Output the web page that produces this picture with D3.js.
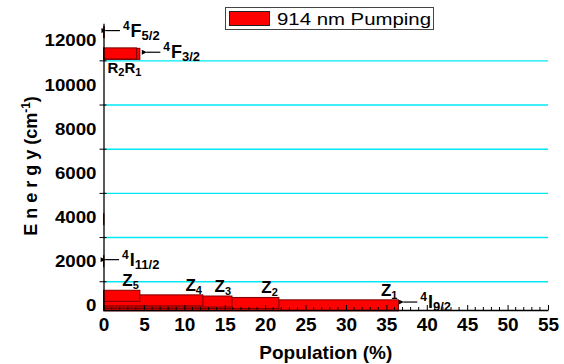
<!DOCTYPE html>
<html>
<head>
<meta charset="utf-8">
<script src="https://cdn.jsdelivr.net/npm/d3@7"></script>
<style>
  body { margin: 0; background: #fff; }
  svg { display: block; font-family: 'Liberation Sans', Arial, sans-serif; }
</style>
</head>
<body>
<div id="viz"></div>
<script>
// Levels of Nd ion: energy (cm-1) and population (%) under 914 nm pumping
const groundNames = ['Z1', 'Z2', 'Z3', 'Z4', 'Z5'];
const groundEnergy = [0, 108, 173, 226, 433];
const groundPop = [36.5, 21.7, 15.9, 12.3, 4.5];

const upperNames = ['I13', 'I11', 'R1', 'R2', 'F52'];
const upperEnergy = [3900, 2000, 11386, 11405, 12370];
const upperPop = [0.05, 0.05, 4.5, 4.1, 0.1];

// Manifold labels: superscript, letter, subscript, energy, arrow tip (population)
const manifoldLabels = [
  {sup: '4', main: 'F', sub: '5/2', energy: 12370, tip: 0.3},
  {sup: '4', main: 'F', sub: '3/2', energy: 11390, tip: 5.3},
  {sup: '4', main: 'I', sub: '11/2', energy: 2000, tip: 0.2},
  {sup: '4', main: 'I', sub: '9/2', energy: 80, tip: 37.1}
];

const yTickLabels = [0, 2000, 4000, 6000, 8000, 10000, 12000];
const yMinorTicks = [1000, 3000, 5000, 7000, 9000, 11000];
const gridValues = [1000, 3000, 5000, 7000, 9000, 11000];
const xTickLabels = d3.range(0, 56, 5);
const xMinorTicks = d3.range(0, 56, 1);
const legendLabel = '914 nm Pumping';

const width = 564;
const height = 364;
const barThickness = 500; // in cm-1
const barFill = '#ff0000';
const barStroke = '#7a0000';
const gridColor = '#00e8f4';

const svg = d3.select('#viz')
  .append('svg')
    .attr('width', width)
    .attr('height', height);

const xScale = d3.scaleLinear()
  .domain([0, 55])
  .range([103.5, 548]);
const yScale = d3.scaleLinear()
  .domain([-280, 12700])
  .range([310, 23.3]);

// Gridlines
svg.append('g')
  .selectAll('line')
  .data(gridValues)
  .join('line')
    .attr('x1', xScale(0))
    .attr('x2', xScale(55))
    .attr('y1', d => yScale(d))
    .attr('y2', d => yScale(d))
    .attr('stroke', gridColor)
    .attr('stroke-width', 1.4);

// Bars
const barTop = e => yScale(e + barThickness * 0.36);
const barBottom = e => yScale(e - barThickness * 0.64);

const bars = groundNames.map((n, i) => ({name: n, energy: groundEnergy[i], pop: groundPop[i]}))
  .concat(upperNames.map((n, i) => ({name: n, energy: upperEnergy[i], pop: upperPop[i]})));

svg.append('g')
  .selectAll('rect')
  .data(bars)
  .join('rect')
    .attr('x', xScale(0))
    .attr('y', d => barTop(d.energy))
    .attr('width', d => xScale(d.pop) - xScale(0))
    .attr('height', d => barBottom(d.energy) - barTop(d.energy))
    .attr('fill', d => d.pop < 0.5 ? barStroke : barFill)
    .attr('stroke', barStroke)
    .attr('stroke-width', 1);

// Y axis: labels at even thousands, crossing ticks at odd ones
const yAxis = d3.axisLeft(yScale)
  .tickValues(yTickLabels)
  .tickSize(0)
  .tickPadding(7)
  .tickFormat(d3.format('d'));
const yAxisGroup = svg.append('g')
  .attr('transform', `translate(${xScale(0)},0)`)
  .call(yAxis);
yAxisGroup.select('.domain').attr('stroke', '#000').attr('stroke-width', 1.3);
yAxisGroup.selectAll('text')
  .attr('fill', '#000')
  .attr('dy', '0.42em')
  .style('font-size', '17px')
  .style('font-weight', 700)
  .attr('textLength', d => String(d).length * 10.4)
  .attr('lengthAdjust', 'spacingAndGlyphs');
yAxisGroup.append('g')
  .selectAll('line')
  .data(yMinorTicks)
  .join('line')
    .attr('x1', -4)
    .attr('x2', 3)
    .attr('y1', d => yScale(d))
    .attr('y2', d => yScale(d))
    .attr('stroke', '#000');

// X axis
const xAxis = d3.axisBottom(xScale)
  .tickValues(xTickLabels)
  .tickSizeInner(-5)
  .tickSizeOuter(0)
  .tickPadding(8);
const xAxisGroup = svg.append('g')
  .attr('transform', `translate(0,${yScale(-280)})`)
  .call(xAxis);
xAxisGroup.select('.domain').attr('stroke', '#000').attr('stroke-width', 1.3);
xAxisGroup.selectAll('text')
  .attr('fill', '#000')
  .style('font-size', '19px')
  .style('font-weight', 700);
xAxisGroup.append('g')
  .selectAll('line')
  .data(xMinorTicks.filter(d => d % 5 !== 0))
  .join('line')
    .attr('x1', d => xScale(d))
    .attr('x2', d => xScale(d))
    .attr('y1', 0)
    .attr('y2', -3)
    .attr('stroke', '#000');

// Axis titles
svg.append('text')
  .attr('x', (xScale(0) + xScale(55)) / 2)
  .attr('y', 359)
  .attr('text-anchor', 'middle')
  .style('font-size', '19px')
  .style('font-weight', 700)
  .text('Population (%)');

const yTitle = svg.append('text')
  .attr('transform', 'translate(37,166) rotate(-90)')
  .attr('text-anchor', 'middle')
  .style('font-size', '18px')
  .style('font-weight', 700);
yTitle.append('tspan').style('letter-spacing', '5px').text('Energy');
yTitle.append('tspan').text('(cm');
yTitle.append('tspan').attr('dy', -7).style('font-size', '12px').text('-1');
yTitle.append('tspan').attr('dy', 7).text(')');

// Arrow marker
svg.append('defs').append('marker')
  .attr('id', 'arrow')
  .attr('viewBox', '0 0 10 10')
  .attr('refX', 1)
  .attr('refY', 5)
  .attr('markerWidth', 7)
  .attr('markerHeight', 5)
  .attr('markerUnits', 'userSpaceOnUse')
  .attr('orient', 'auto-start-reverse')
  .append('path')
    .attr('d', 'M0,5 L10,0 L10,10 Z')
    .attr('fill', '#000');

// Manifold labels with arrows
manifoldLabels.forEach(l => {
  const y = yScale(l.energy);
  const x0 = xScale(l.tip);
  svg.append('line')
    .attr('x1', x0)
    .attr('x2', x0 + 14)
    .attr('y1', y)
    .attr('y2', y)
    .attr('stroke', '#000')
    .attr('stroke-width', 1.2)
    .attr('marker-start', 'url(#arrow)');
  const t = svg.append('text')
    .attr('x', x0 + 17)
    .attr('y', y + 6)
    .style('font-weight', 700);
  t.append('tspan').attr('dy', -7).style('font-size', '12px').text(l.sup);
  t.append('tspan').attr('dy', 7).attr('dx', 1).style('font-size', '18px').text(l.main);
  t.append('tspan').attr('dy', 3).style('font-size', '13px').text(l.sub);
});

// Z labels above the ground state bars
const zLabels = svg.append('g');
groundNames.forEach((n, i) => {
  const t = zLabels.append('text')
    .attr('x', xScale(groundPop[i]) - 1)
    .attr('y', barTop(groundEnergy[i]) - 4)
    .attr('text-anchor', 'end')
    .style('font-weight', 700);
  t.append('tspan').style('font-size', '17px').text('Z');
  t.append('tspan').attr('dy', 3).style('font-size', '11px').text(n.slice(1));
});

// R labels under the 4F3/2 bars
const rLabel = svg.append('text')
  .attr('x', xScale(0) + 4)
  .attr('y', barBottom(upperEnergy[2]) + 14)
  .style('font-weight', 700);
rLabel.append('tspan').style('font-size', '15px').text('R');
rLabel.append('tspan').attr('dy', 3).style('font-size', '11px').text('2');
rLabel.append('tspan').attr('dy', -3).style('font-size', '15px').text('R');
rLabel.append('tspan').attr('dy', 3).style('font-size', '11px').text('1');

// Legend
const legend = svg.append('g');
legend.append('rect')
  .attr('x', 225.5)
  .attr('y', 7.5)
  .attr('width', 208)
  .attr('height', 22)
  .attr('fill', '#fff')
  .attr('stroke', '#444');
legend.append('rect')
  .attr('x', 229.5)
  .attr('y', 11.5)
  .attr('width', 40)
  .attr('height', 14)
  .attr('fill', barFill)
  .attr('stroke', '#222');
legend.append('text')
  .attr('x', 277)
  .attr('y', 25)
  .style('font-size', '16px')
  .attr('textLength', 154)
  .attr('lengthAdjust', 'spacingAndGlyphs')
  .text(legendLabel);
</script>
</body>
</html>
